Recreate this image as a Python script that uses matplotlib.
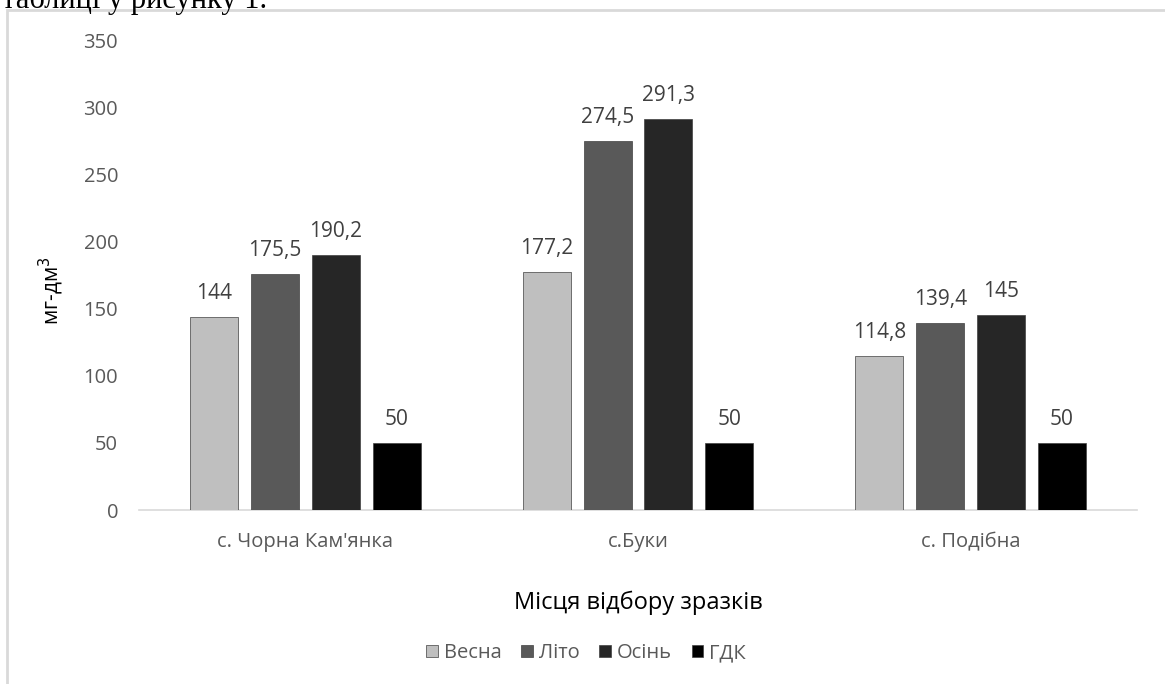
import numpy as np
import matplotlib
matplotlib.use("Agg")
import matplotlib.pyplot as plt
from matplotlib.patches import Rectangle

places = ["с. Чорна Кам'янка", "с.Буки", "с. Подібна"]
seasons = ["Весна", "Літо", "Осінь", "ГДК"]
vesna = [144, 177.2, 114.8]
lito = [175.5, 274.5, 139.4]
osin = [190.2, 291.3, 145]
gdk = [50, 50, 50]
labels_vesna = ["144", "177,2", "114,8"]
labels_lito = ["175,5", "274,5", "139,4"]
labels_osin = ["190,2", "291,3", "145"]
labels_gdk = ["50", "50", "50"]
colors = ["#bfbfbf", "#595959", "#262626", "#000000"]

plt.rcParams['font.family'] = ['Open Sans', 'DejaVu Sans']

W, H = 1165, 684
fig = plt.figure(figsize=(W / 100, H / 100), dpi=100)
ax = fig.add_axes([139 / W, 1 - 510 / H, (1137 - 139) / W, 470 / H])

# frame of the embedded chart, cut off at right and bottom
fig.patches.append(Rectangle((7 / W, -0.1), 1.2, 1 - 10 / H + 0.1,
                             transform=fig.transFigure, fill=False,
                             edgecolor="#d9d9d9", linewidth=2))
# cut-off text line above the chart
fig.text(2 / W, 1 - 8 / H, "таблиці у рисунку 1.", family="Liberation Serif",
         fontsize=22, color="black", va="baseline", ha="left")

x = np.arange(len(places))
bw = 0.144
step = 0.183
series = [vesna, lito, osin, gdk]
labels = [labels_vesna, labels_lito, labels_osin, labels_gdk]
for i, (vals, labs) in enumerate(zip(series, labels)):
    pos = x + (i - 1.5) * step
    ax.bar(pos, vals, width=bw, color=colors[i], edgecolor="#404040",
           linewidth=0.5, label=seasons[i], zorder=3)
    for p, v, t in zip(pos, vals, labs):
        ax.annotate(t, (p, v), xytext=(0, 13), textcoords="offset points",
                    ha="center", va="baseline", fontsize=15, color="#404040")

ax.set_xlim(-0.5, 2.5)
ax.set_ylim(0, 350)
ax.set_yticks(range(0, 351, 50))
ax.set_xticks(x)
ax.set_xticklabels(places)
ax.tick_params(axis="both", length=0, labelsize=14.5, colors="#595959")
ax.tick_params(axis="y", pad=15)
ax.tick_params(axis="x", pad=16)
for s in ["top", "right", "left"]:
    ax.spines[s].set_visible(False)
ax.spines["bottom"].set_color("#d9d9d9")
ax.spines["bottom"].set_linewidth(1.2)

ax.set_ylabel("мг-дм$^3$", fontsize=15, color="black")
ax.yaxis.set_label_coords(-73 / 998, 0.5 - 16 / 470)
ax.set_xlabel("Місця відбору зразків", fontsize=17, color="black", labelpad=28)

leg = fig.legend(loc="center", bbox_to_anchor=(586 / W, 1 - 653 / H), ncol=4,
                 frameon=False, fontsize=14.5, handlelength=0.55,
                 handleheight=0.55, handletextpad=0.3, columnspacing=1.0)
for t in leg.get_texts():
    t.set_color("#595959")

fig.savefig("out.png", dpi=100)
